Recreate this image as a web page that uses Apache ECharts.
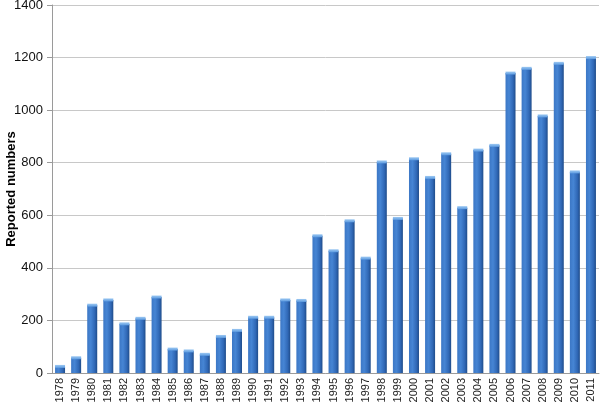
<!DOCTYPE html>
<html>
<head>
<meta charset="utf-8">
<script src="https://cdn.jsdelivr.net/npm/echarts@6/dist/echarts.min.js"></script>
<style>
  html, body { margin: 0; padding: 0; background: #fff; }
  #chart { width: 600px; height: 406px; }
</style>
</head>
<body>
<div id="chart"></div>
<script>
var years = ['1978', '1979', '1980', '1981', '1982', '1983', '1984', '1985', '1986', '1987',
  '1988', '1989', '1990', '1991', '1992', '1993', '1994', '1995', '1996', '1997',
  '1998', '1999', '2000', '2001', '2002', '2003', '2004', '2005', '2006', '2007',
  '2008', '2009', '2010', '2011'];
var reported = [25, 58, 258, 278, 187, 208, 289, 91, 84, 71,
  139, 162, 212, 212, 278, 276, 522, 465, 579, 437,
  803, 588, 815, 744, 834, 629, 848, 866, 1141, 1159,
  978, 1178, 765, 1200];

var chart = echarts.init(document.getElementById('chart'));

var barColor = new echarts.graphic.LinearGradient(0, 0, 1, 0, [
  { offset: 0, color: '#3c77c5' },
  { offset: 0.35, color: '#4685d4' },
  { offset: 0.75, color: '#3068b6' },
  { offset: 1, color: '#1f4c8a' }
]);

var option = {
  backgroundColor: '#ffffff',
  animation: false,
  grid: { left: 52, right: 1, top: 5, bottom: 33, containLabel: false, outerBoundsMode: 'none' },
  xAxis: {
    type: 'category',
    data: years,
    axisLine: { lineStyle: { color: '#9a9a9a' } },
    axisTick: { show: false },
    axisLabel: {
      interval: 0,
      rotate: 90,
      margin: 5,
      color: '#222',
      fontSize: 11,
      fontFamily: 'Liberation Sans, Arial, sans-serif'
    }
  },
  yAxis: {
    type: 'value',
    min: 0,
    max: 1400,
    interval: 200,
    name: 'Reported numbers',
    nameLocation: 'middle',
    nameGap: 34,
    nameMoveOverlap: false,
    nameTextStyle: {
      fontWeight: 'bold',
      fontSize: 13,
      color: '#000',
      fontFamily: 'Liberation Sans, Arial, sans-serif'
    },
    axisLine: { show: true, lineStyle: { color: '#9a9a9a' } },
    axisTick: { show: true, length: 5, lineStyle: { color: '#9a9a9a' } },
    axisLabel: {
      color: '#111',
      fontSize: 13,
      margin: 9,
      fontFamily: 'Liberation Sans, Arial, sans-serif',
      formatter: function (v) { return String(v); }
    },
    splitLine: { lineStyle: { color: '#c8c8c8' } }
  },
  series: [
    {
      name: 'Reported numbers',
      type: 'bar',
      data: reported,
      barWidth: 10,
      itemStyle: { color: barColor }
    },
    {
      name: 'cap',
      type: 'pictorialBar',
      data: reported,
      symbol: 'rect',
      symbolSize: [10, 3],
      symbolPosition: 'end',
      symbolOffset: [0, '-50%'],
      z: 3,
      itemStyle: {
        color: new echarts.graphic.LinearGradient(0, 0, 0, 1, [
          { offset: 0, color: '#9cc8f2' },
          { offset: 1, color: '#5d9be0' }
        ])
      }
    }
  ]
};

chart.setOption(option);
</script>
</body>
</html>
